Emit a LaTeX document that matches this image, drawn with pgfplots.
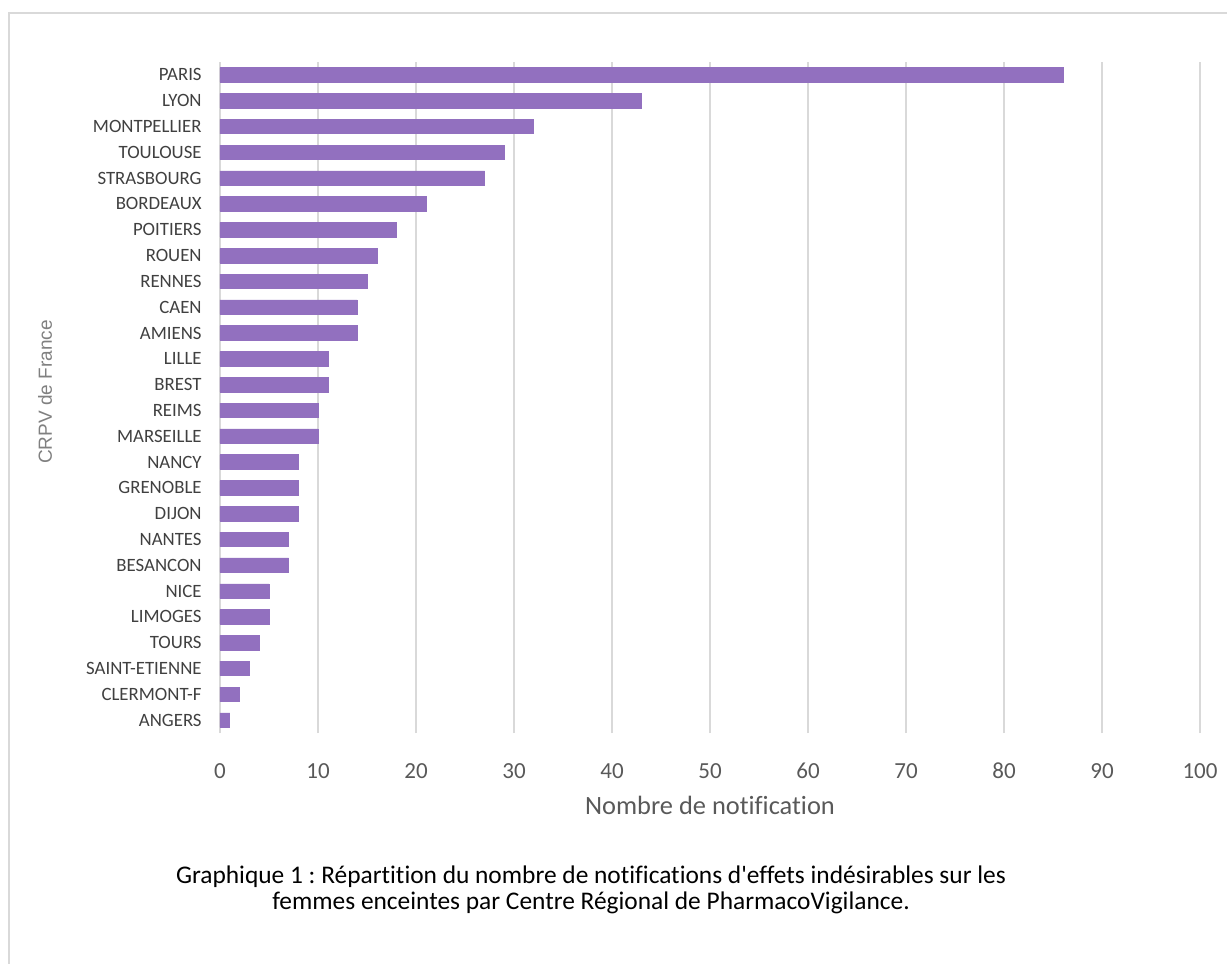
\documentclass[border=0pt]{standalone}
\usepackage{pgfplots}
\pgfplotsset{compat=1.18}
\usepackage{pgfplotstable}
\usepackage{fontspec}
\setmainfont{Carlito}[Ligatures={TeXOff,NoCommon}]
\newfontfamily\arialfont{Liberation Sans}
\frenchspacing
\definecolor{barpurple}{RGB}{146,112,191}
\definecolor{gridgray}{RGB}{217,217,217}
\definecolor{ticktext}{RGB}{89,89,89}
\definecolor{cattext}{RGB}{64,64,64}
\definecolor{ylabgray}{RGB}{128,128,128}
\pgfplotstableread{
y x
0 1
1 2
2 3
3 4
4 5
5 5
6 7
7 7
8 8
9 8
10 8
11 10
12 10
13 11
14 11
15 14
16 14
17 15
18 16
19 18
20 21
21 27
22 29
23 32
24 43
25 86
}\crpv
\begin{document}
\begin{tikzpicture}
\path[use as bounding box] (-110pt,-115.5pt) rectangle (503.5pt,366.5pt);
\draw[gridgray, line width=1pt] (-105.5pt,-115.5pt) -- (-105.5pt,360pt) -- (503.5pt,360pt);
\begin{axis}[
  at={(0pt,0pt)}, anchor=south west,
  scale only axis, width=490pt, height=335.5pt,
  xbar, bar width=7.25pt,
  xmin=0, xmax=100, ymin=-0.5, ymax=25.5,
  xtick={0,10,...,100},
  ytick={0,...,25},
  yticklabels={ANGERS,CLERMONT-F,SAINT-ETIENNE,TOURS,LIMOGES,NICE,BESANCON,NANTES,DIJON,GRENOBLE,NANCY,MARSEILLE,REIMS,BREST,LILLE,AMIENS,CAEN,RENNES,ROUEN,POITIERS,BORDEAUX,STRASBOURG,TOULOUSE,MONTPELLIER,LYON,PARIS},
  axis line style={draw=none},
  major tick length=0pt,
  xmajorgrids, grid style={gridgray, line width=1pt},
  /pgf/number format/assume math mode=true,
  xticklabel style={font=\fontsize{11.5}{13}\selectfont, text=ticktext, inner sep=0pt, anchor=center, yshift=-19pt},
  yticklabel style={font=\fontsize{9.4}{11}\selectfont, text=cattext, inner sep=0pt, anchor=east, xshift=-9pt},
  clip=false,
]
\addplot[fill=barpurple, draw=barpurple, line width=0.3pt] table[x=x, y=y] {\crpv};
\end{axis}
\node[rotate=90, text=ylabgray, font=\arialfont\fontsize{9.5}{11}\selectfont] at (-87.5pt,170.5pt) {CRPV de France};
\node[text=ticktext, font=\fontsize{13.2}{15}\selectfont] at (245pt,-36pt) {Nombre de notification};
\node[align=center, font=\fontsize{12.7}{13.2}\selectfont, text=black] at (185.5pt,-78.5pt) {Graphique 1 : Répartition du nombre de notifications d'effets indésirables sur les\\femmes enceintes par Centre Régional de PharmacoVigilance.};
\end{tikzpicture}
\end{document}
